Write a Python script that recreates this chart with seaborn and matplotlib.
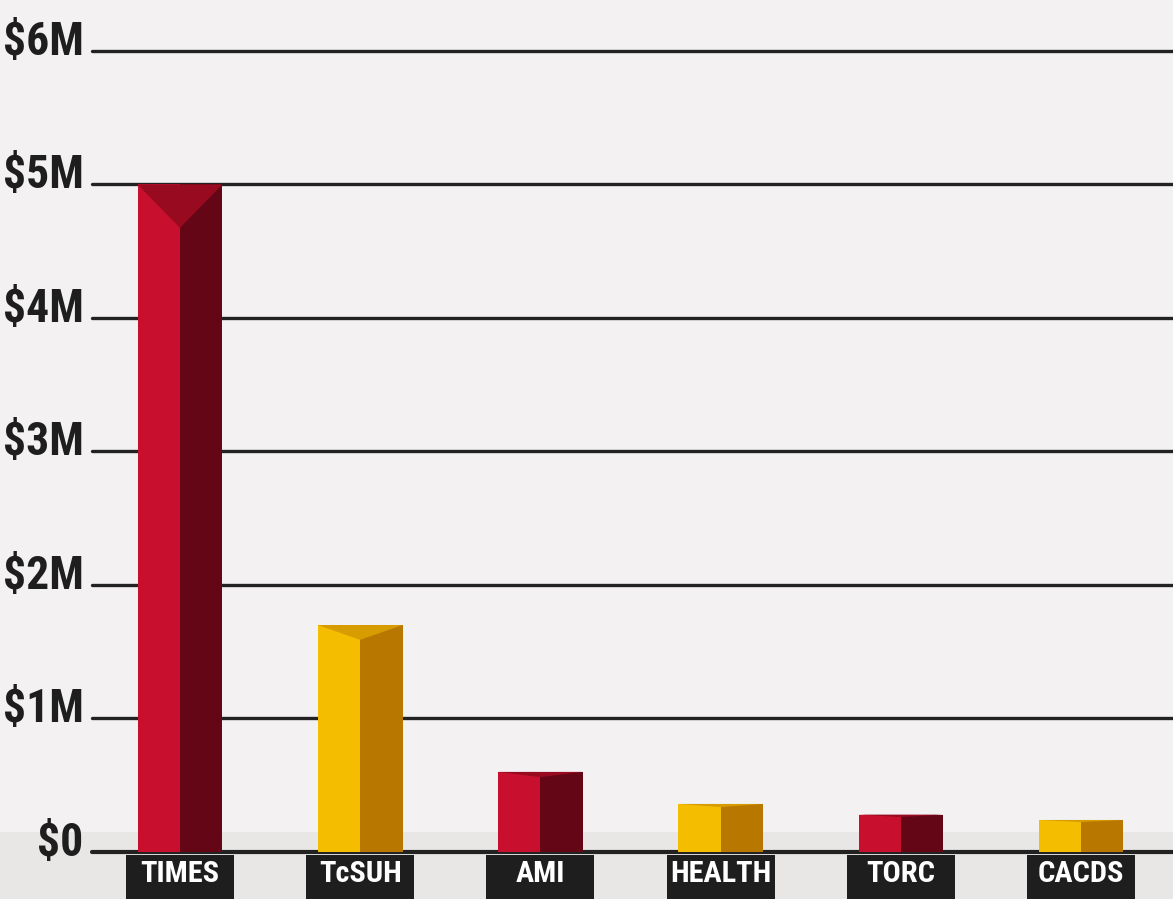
import matplotlib
matplotlib.use("Agg")
import matplotlib.pyplot as plt
import matplotlib.font_manager as fm
from matplotlib.textpath import TextPath
import seaborn as sns
from matplotlib.patches import Rectangle, Polygon
from matplotlib.transforms import ScaledTranslation, blended_transform_factory

# ---- data ----
categories = ["TIMES", "TcSUH", "AMI", "HEALTH", "TORC", "CACDS"]
values_musd = [5.0, 1.70, 0.60, 0.36, 0.28, 0.24]
y_ticks = [0, 1, 2, 3, 4, 5, 6]
y_tick_labels = ["$0", "$1M", "$2M", "$3M", "$4M", "$5M", "$6M"]

# ---- style ----
light = {"red": "#c8102e", "gold": "#f5bd00"}
dark = {"red": "#640616", "gold": "#b87800"}
cap = {"red": "#970a1f", "gold": "#d69c00"}
scheme = ["red", "gold", "red", "gold", "red", "gold"]

sns.set_theme(style="white")
plt.rcParams["font.family"] = ["DejaVu Sans"]


def pick_condensed():
    prefs = ["robotocondensed", "opensanscondensed", "opensans_condensed",
             "extracondensed", "semicondensed", "narrow", "condensed"]
    best, best_key = None, None
    for f in fm.fontManager.ttflist:
        fn = f.fname.lower().replace("-", "").replace(" ", "")
        if not (f.fname.lower().endswith(".ttf") or f.fname.lower().endswith(".otf")):
            continue
        rank = None
        for i, p in enumerate(prefs):
            if p in fn:
                rank = i
                break
        if rank is None and str(f.stretch) in ("condensed", "extra-condensed",
                                                 "ultra-condensed", "semi-condensed"):
            rank = len(prefs)
        if rank is None or "italic" in fn or "oblique" in fn:
            continue
        try:
            w = int(f.weight)
        except Exception:
            w = 700 if "bold" in str(f.weight) else 400
        key = (rank, abs(w - 700))
        if best_key is None or key < best_key:
            best, best_key = f, key
    if best is not None:
        return fm.FontProperties(fname=best.fname)
    return fm.FontProperties(family="DejaVu Sans", weight="bold")


fp = pick_condensed()


def fit_size(text, width_px, cap_px):
    tp = TextPath((0, 0), text, prop=fp, size=10)
    wid = tp.get_extents().width / 10.0
    cp = TextPath((0, 0), "M", prop=fp, size=10).get_extents().height / 10.0
    s_w = width_px * 0.72 / wid
    s_h = cap_px * 0.72 / cp
    return min(s_w, s_h)


ysize = fit_size("$6M", 76, 40)
xsize = min(fit_size("HEALTH", 98, 31), fit_size("TIMES", 82, 31))

W, H = 1173, 899
fig = plt.figure(figsize=(W / 100, H / 100), dpi=100, facecolor="#f3f1f2")
fig.patches.append(Rectangle((0, 0), 1, (H - 832) / H, transform=fig.transFigure,
                             facecolor="#e9e6e6", edgecolor="none", zorder=-10))

ax = fig.add_axes([92 / W, 47 / H, 1 - 92 / W, 852 / H])
ax.set_facecolor("none")
ax.set_axisbelow(False)

palette = [light[s] for s in scheme]
sns.barplot(x=categories, y=values_musd, hue=categories, palette=palette,
            legend=False, width=0.47, ax=ax, saturation=1, zorder=3,
            edgecolor="none", linewidth=0)

ax.set_xlim(-0.488, 5.51)
ax.set_ylim(0, 6.382)

# pseudo-3D: dark right half + top cap
for patch, s in zip(ax.patches[:len(categories)], scheme):
    x0 = patch.get_x()
    w = patch.get_width()
    h = patch.get_height()
    ax.add_patch(Rectangle((x0 + w / 2, 0), w / 2, h, facecolor=dark[s],
                           edgecolor="none", zorder=4))
    d = 0.065 * h
    ax.add_patch(Polygon([(x0, h), (x0 + w, h), (x0 + w / 2, h - d)],
                         closed=True, facecolor=cap[s], edgecolor="none", zorder=5))

# grid lines
ax.set_yticks(y_ticks)
ax.set_yticklabels(y_tick_labels)
for yv in y_ticks:
    ax.axhline(yv, color="#222222", lw=2.4 if yv else 3.0, zorder=1, clip_on=False)

for sp in ax.spines.values():
    sp.set_visible(False)

ax.tick_params(axis="y", length=0, pad=6, labelcolor="#1e1e1e")
for lab in ax.get_yticklabels():
    lab.set_fontproperties(fp)
    lab.set_fontsize(ysize)
    lab.set_verticalalignment("baseline")
    lab.set_transform(lab.get_transform() + ScaledTranslation(0, -4 / 100, fig.dpi_scale_trans))

# category label boxes
trans = blended_transform_factory(ax.transData, ax.transAxes)
for i, _ in enumerate(categories):
    ax.add_patch(Rectangle((i - 0.30, -0.08), 0.60, 0.08 - 3 / 852, transform=trans,
                           facecolor="#1e1e1e", edgecolor="none", clip_on=False, zorder=2))

ax.tick_params(axis="x", length=0, pad=6, labelcolor="white")
for lab in ax.get_xticklabels():
    lab.set_fontproperties(fp)
    lab.set_fontsize(xsize)
ax.set_xlabel("")
ax.set_ylabel("")

fig.savefig("out.png", dpi=100, facecolor=fig.get_facecolor())
